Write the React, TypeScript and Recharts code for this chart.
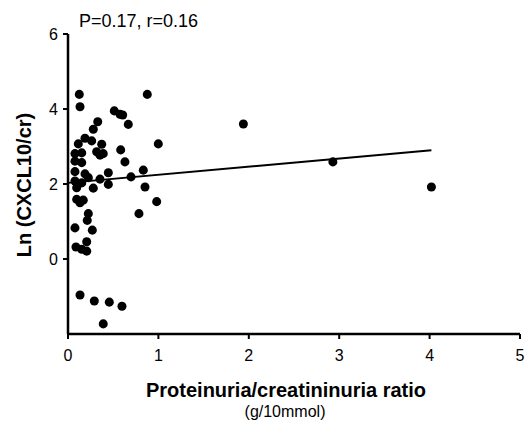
import {
  ReferenceLine,
  Scatter,
  ScatterChart,
  XAxis,
  YAxis,
  ZAxis,
} from "recharts";

// ratio (g/10mmol) vs Ln(CXCL10/cr)
const ratio = [
  0.125, 0.877, 0.133, 0.512, 0.575, 0.605, 0.329, 0.667, 0.28, 0.114,
  0.188, 0.262, 0.999, 0.373, 0.317, 0.39, 0.354, 0.077, 0.152, 0.583,
  0.077, 0.152, 0.63, 0.077, 0.188, 0.225, 0.446, 0.833, 0.697, 0.354,
  0.077, 0.152, 0.096, 0.28, 0.446, 0.852, 0.096, 0.169, 0.981, 0.133,
  0.225, 0.213, 0.785, 0.077, 0.269, 0.207, 0.088, 0.152, 0.207, 0.133,
  0.291, 0.457, 0.597, 0.39, 1.94, 2.93, 4.02,
];
const lnCxcl10 = [
  4.39, 4.39, 4.06, 3.95, 3.86, 3.84, 3.66, 3.59, 3.46, 3.07,
  3.22, 3.15, 3.07, 3.06, 2.86, 2.81, 2.77, 2.81, 2.83, 2.91,
  2.61, 2.57, 2.59, 2.33, 2.27, 2.17, 2.3, 2.37, 2.19, 2.13,
  2.08, 2.03, 1.9, 1.89, 1.99, 1.92, 1.59, 1.57, 1.53, 1.5,
  1.21, 1.03, 1.21, 0.83, 0.77, 0.46, 0.32, 0.26, 0.21, -0.96,
  -1.12, -1.15, -1.26, -1.73, 3.6, 2.59, 1.92,
];

// regression line end points
const fitX = [0, 4.02];
const fitY = [2.03, 2.9];

const xTicks = [0, 1, 2, 3, 4, 5];
const yTicks = [0, 2, 4, 6];

const points = ratio.map((x, i) => ({ x, y: lnCxcl10[i] }));

const font = "Liberation Sans, Arial, sans-serif";

function XLabel() {
  return (
    <g fontFamily={font} fill="#000" textAnchor="middle">
      <text x={286} y={397} fontSize={20} fontWeight="bold">
        Proteinuria/creatininuria ratio
      </text>
      <text x={285} y={417} fontSize={16}>
        (g/10mmol)
      </text>
    </g>
  );
}

function YLabel() {
  return (
    <text
      x={31}
      y={185}
      transform="rotate(-90 31 185)"
      fontFamily={font}
      fontSize={20}
      fontWeight="bold"
      textAnchor="middle"
      fill="#000"
    >
      Ln (CXCL10/cr)
    </text>
  );
}

function App() {
  return (
    <div style={{ position: "absolute", left: 0, top: 0, background: "#fff" }}>
      <ScatterChart
        width={525}
        height={423}
        margin={{ top: 34, right: 5, left: 0, bottom: 0 }}
      >
        <text x={79} y={27} fontFamily={font} fontSize={18} fill="#000">
          P=0.17, r=0.16
        </text>
        <XAxis
          type="number"
          dataKey="x"
          domain={[0, 5]}
          ticks={xTicks}
          interval={0}
          height={89}
          axisLine={{ stroke: "#000", strokeWidth: 2.5 }}
          tickLine={{ stroke: "#000", strokeWidth: 2 }}
          tickSize={5}
          tickMargin={11}
          tick={{ fill: "#000", fontSize: 16, fontFamily: font }}
          label={<XLabel />}
        />
        <YAxis
          type="number"
          dataKey="y"
          domain={[-2, 6]}
          ticks={yTicks}
          interval={0}
          width={68}
          axisLine={{ stroke: "#000", strokeWidth: 2.5 }}
          tickLine={{ stroke: "#000", strokeWidth: 2 }}
          tickSize={5}
          tickMargin={5}
          tick={{ fill: "#000", fontSize: 16, fontFamily: font }}
          label={<YLabel />}
        />
        <ZAxis range={[70, 70]} />
        <ReferenceLine
          segment={[
            { x: fitX[0], y: fitY[0] },
            { x: fitX[1], y: fitY[1] },
          ]}
          stroke="#000"
          strokeWidth={2}
        />
        <Scatter data={points} fill="#000" isAnimationActive={false} />
      </ScatterChart>
    </div>
  );
}

export default App;
